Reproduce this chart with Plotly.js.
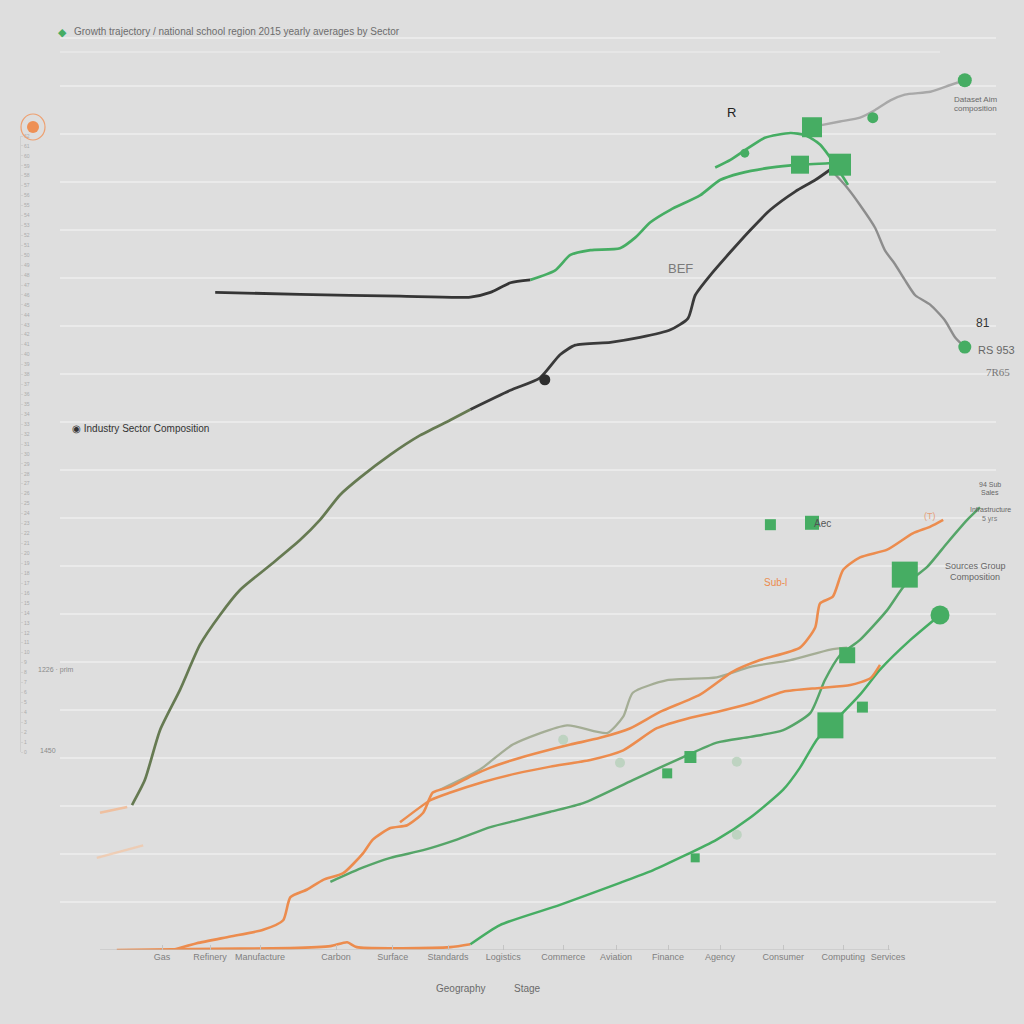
<!DOCTYPE html>
<html>
<head>
<meta charset="utf-8">
<script src="https://cdn.plot.ly/plotly-3.0.1.min.js"></script>
<style>
  html, body { margin: 0; padding: 0; background: #dedede; }
  #myPlot { width: 1024px; height: 1024px; }
</style>
</head>
<body>
<div id="myPlot"></div>
<script>
// sector axis
var sectorTicks = [7.75, 13.75, 20, 29.5, 36.6, 43.5, 50.4, 57.9, 64.5, 71, 77.5, 85.4, 92.9, 98.5]
var sectorNames = ["Gas", "Refinery", "Manufacture", "Carbon", "Surface", "Standards", "Logistics",
                   "Commerce", "Aviation", "Finance", "Agency", "Consumer", "Computing", "Services"]

// upper group
var mainLowX = [4.0, 5.6, 7.5, 10.0, 12.5, 15.0, 17.5, 21.3, 25.0, 27.5, 30.0, 32.5, 36.3, 40.0, 43.8, 46.3]
var mainLowY = [15.1, 17.7, 22.9, 27.1, 31.8, 34.9, 37.5, 40.1, 42.7, 44.8, 47.4, 49.2, 51.6, 53.6, 55.2, 56.3]
var mainHighX = [46.3, 51.3, 55.0, 57.5, 59.4, 63.8, 67.5, 71.3, 73.5, 74.4, 76.3, 78.8, 81.3, 83.8, 86.9, 89.4, 91.3]
var mainHighY = [56.3, 58.3, 59.6, 62.0, 63.0, 63.3, 63.8, 64.6, 65.8, 68.2, 70.3, 72.7, 75.0, 77.1, 79.0, 80.2, 81.3]
var dropX = [91.3, 93.1, 95.0, 96.9, 98.1, 99.4, 100.6, 101.9, 103.8, 105.6, 106.9, 108.1]
var dropY = [81.3, 79.7, 77.6, 75.2, 72.9, 71.4, 69.8, 68.2, 67.2, 65.6, 63.8, 62.8]
var flatX = [14.4, 25.0, 37.5, 46.3, 48.8, 51.3, 53.8]
var flatY = [68.5, 68.3, 68.1, 68.0, 68.5, 69.5, 69.8]
var riseX = [53.8, 56.9, 58.8, 61.3, 65.0, 66.9, 68.8, 71.3, 75.0, 77.5, 80.0, 83.8, 87.5, 92.5]
var riseY = [69.8, 70.8, 72.4, 72.9, 73.1, 74.2, 75.8, 77.1, 78.6, 80.2, 80.9, 81.5, 81.8, 82.0]
var arcX = [76.9, 78.8, 80.6, 83.1, 86.3, 88.1, 90.0, 91.9, 93.5]
var arcY = [81.5, 82.3, 83.3, 84.6, 85.1, 84.9, 83.9, 81.8, 79.7]
var topX = [90.0, 92.5, 95.0, 96.9, 98.8, 100.6, 103.8, 106.3, 108.1]
var topY = [85.9, 86.3, 86.7, 87.5, 88.5, 89.1, 89.4, 90.1, 90.6]

// lower group
var orangeAX = [9.1, 12.1, 16.3, 20.4, 22.9, 23.8, 25.9, 27.9, 30.4, 32.9, 34.1, 36.3, 38.4, 40.4, 41.6, 43.8, 46.6, 48.8,
                51.6, 55.0, 58.8, 62.5, 66.3, 70.0, 75.0, 79.1, 82.5, 87.5, 89.4, 90.0, 91.6, 92.9, 95.0, 98.4, 101.6, 103.8, 105.4]
var orangeAY = [0, 0.7, 1.4, 2.1, 3.1, 5.5, 6.3, 7.3, 8.0, 10.1, 11.5, 12.7, 13.0, 14.3, 16.4, 17.0, 18.2, 19.0,
                19.8, 20.6, 21.4, 22.1, 23.1, 24.8, 26.6, 29.0, 30.2, 31.5, 33.6, 36.1, 36.8, 39.6, 40.9, 41.7, 43.4, 44.1, 44.8]
var orangeBX = [37.5, 41.3, 43.8, 47.9, 52.1, 56.3, 61.3, 65.4, 69.6, 73.8, 77.1, 81.3, 85.4, 90.0, 93.8, 96.3, 97.5]
var orangeBY = [13.3, 15.6, 16.4, 17.5, 18.4, 19.1, 19.8, 20.8, 23.1, 24.2, 24.8, 25.7, 26.9, 27.3, 27.6, 28.3, 29.7]
var orangeCX = [2.1, 11.3, 23.8, 28.8, 30.9, 32.1, 43.8, 46.3]
var orangeCY = [0, 0.1, 0.2, 0.4, 0.8, 0.3, 0.3, 0.6]
var fadeAX = [0, 3.4], fadeAY = [14.3, 14.9]
var fadeBX = [-0.4, 5.4], fadeBY = [9.6, 10.9]
var sageX = [42.5, 47.5, 51.6, 58.4, 63.4, 65.4, 66.6, 70.9, 77.1, 81.3, 86.3, 91.3, 93.4]
var sageY = [16.7, 18.8, 21.4, 23.4, 22.6, 24.3, 26.8, 28.1, 28.4, 29.5, 30.2, 31.3, 31.5]
var green1X = [28.8, 32.9, 36.3, 40.4, 44.6, 48.8, 52.1, 56.3, 60.4, 66.6, 72.9, 77.1, 81.3, 85.4, 88.8, 90.6,
               92.5, 95.0, 98.4, 100.6, 103.4, 105.9, 108.4, 110.0]
var green1Y = [7.1, 8.6, 9.6, 10.4, 11.5, 12.8, 13.5, 14.4, 15.3, 17.7, 20.1, 21.6, 22.2, 22.9, 24.7, 28.1,
               30.7, 32.3, 35.4, 38.0, 39.9, 42.4, 44.8, 46.1]
var green2X = [46.3, 50.0, 57.5, 65.0, 69.1, 77.1, 81.3, 85.4, 87.5, 89.6, 91.3]
var green2Y = [0.6, 2.6, 4.7, 7.0, 8.3, 11.5, 13.8, 16.7, 19.0, 21.9, 23.4]
var green3X = [91.3, 95.0, 97.5, 101.3, 105.0]
var green3Y = [23.4, 26.6, 29.2, 32.3, 34.9]

// point markers
var squareX = [89.0, 87.5, 92.5, 100.6, 93.4, 91.3, 95.3, 70.9, 73.8, 74.4, 83.8, 89.0]
var squareY = [85.7, 81.8, 81.8, 39.1, 30.7, 23.4, 25.3, 18.4, 20.1, 9.6, 44.3, 44.5]
var squareSize = [20, 18, 22, 26, 16, 26, 11, 10, 12, 9, 11, 14]
var dotX = [108.1, 108.1, 105.0, 96.6, 80.6]
var dotY = [90.6, 62.8, 34.9, 86.7, 83.0]
var dotSize = [14, 13, 19, 11, 9]
var paleX = [57.9, 79.6, 79.6, 65.0]
var paleY = [21.9, 19.6, 12.0, 19.5]
var darkDotX = [55.6], darkDotY = [59.4]

var green = "#46ad63"
var orange = "#ec8c4e"

var line = function (x, y, color, width, opacity) {
    return {
        x: x, y: y, mode: "lines", type: "scatter", hoverinfo: "skip", showlegend: false,
        opacity: opacity || 1,
        line: { color: color, width: width || 2.6, shape: "spline", smoothing: 0.6 }
    }
}

var data = [
    line(fadeAX, fadeAY, "#f2b890", 2.5, 0.8),
    line(fadeBX, fadeBY, "#f3c4a2", 2.5, 0.7),
    line(orangeCX, orangeCY, orange, 2.6),
    line(green2X, green2Y, green, 2.5),
    line(green3X, green3Y, green, 2.5),
    line(green1X, green1Y, "#55a568", 2.5),
    line(sageX, sageY, "#a4ad95", 2.3),
    line(orangeBX, orangeBY, orange, 2.5),
    line(orangeAX, orangeAY, orange, 2.6),
    line(mainLowX, mainLowY, "#667a52", 2.7),
    line(mainHighX, mainHighY, "#3a3a3a", 2.8),
    line(dropX, dropY, "#8d8d8d", 2.4),
    line(topX, topY, "#a8a8a8", 2.4),
    line(flatX, flatY, "#353535", 2.8),
    line(riseX, riseY, green, 2.7),
    line(arcX, arcY, green, 2.7),
    {
        x: paleX, y: paleY, mode: "markers", type: "scatter", hoverinfo: "skip", showlegend: false,
        marker: { color: "#b5cfb9", size: 10, opacity: 0.8 }
    },
    {
        x: squareX, y: squareY, mode: "markers", type: "scatter", hoverinfo: "skip", showlegend: false,
        marker: { color: green, symbol: "square", size: squareSize, opacity: 1, line: { width: 0 } }
    },
    {
        x: dotX, y: dotY, mode: "markers", type: "scatter", hoverinfo: "skip", showlegend: false,
        marker: { color: green, size: dotSize, opacity: 1, line: { width: 0 } }
    },
    {
        x: darkDotX, y: darkDotY, mode: "markers", type: "scatter", hoverinfo: "skip", showlegend: false,
        marker: { color: "#2e2e2e", size: 11, opacity: 1 }
    },
    // carries the small left-hand scale
    { x: [], y: [], yaxis: "y2", type: "scatter", showlegend: false }
]

// page pixels -> paper coords (plot area runs px 60..996 wide, 25..950 high; paper starts at px 15)
var txt = function (px, py, text, size, color, anchor, extra) {
    var a = {
        xref: "paper", yref: "paper",
        x: (px - 15) / 981, y: (950 - py) / 925,
        text: text, showarrow: false,
        xanchor: anchor || "left", yanchor: "middle",
        font: { family: "Liberation Sans, Arial, sans-serif", size: size, color: color }
    }
    return Object.assign(a, extra || {})
}
var px2x = function (px) { return (px - 15) / 981 }
var py2y = function (py) { return (950 - py) / 925 }

var layout = {
    width: 1024, height: 1024,
    margin: { l: 15, r: 28, t: 25, b: 74 },
    paper_bgcolor: "#dedede",
    plot_bgcolor: "rgba(0,0,0,0)",
    showlegend: false,
    font: { family: "Liberation Sans, Arial, sans-serif", color: "#777" },
    xaxis: {
        domain: [px2x(60), 1],
        range: [-5, 112],
        showgrid: false, zeroline: false, showline: false,
        tickvals: sectorTicks, ticktext: sectorNames,
        tickangle: 0,
        ticks: "inside", ticklen: 5, tickcolor: "#c4c4c4",
        tickfont: { family: "Liberation Sans Narrow, Liberation Sans, sans-serif", size: 9, color: "#808080" }
    },
    yaxis: {
        range: [0, 96.35],
        dtick: 5, tick0: 0,
        showgrid: true, gridcolor: "#eaeaea", gridwidth: 1.5,
        zeroline: false, showline: false, showticklabels: false
    },
    yaxis2: {
        domain: [py2y(752), py2y(136)],
        range: [0, 62],
        dtick: 1,
        anchor: "free", position: px2x(20), side: "right",
        showgrid: false, zeroline: false,
        showline: true, linecolor: "#cfcfcf", linewidth: 1,
        ticks: "outside", ticklen: 2, tickcolor: "#cfcfcf",
        tickfont: { size: 5, color: "#acacac" }
    },
    shapes: [
        { type: "line", xref: "x", yref: "y", x0: 0, x1: 98.75, y0: 0, y1: 0, line: { color: "#bdbdbd", width: 1.2 } },
        { type: "line", xref: "paper", yref: "paper", x0: px2x(60), x1: px2x(940), y0: py2y(52), y1: py2y(52),
          line: { color: "#e8e8e8", width: 1.5 } },
        { type: "circle", xref: "paper", yref: "paper", x0: px2x(21), x1: px2x(45), y0: py2y(140), y1: py2y(114),
          line: { color: "#eea070", width: 1.2 }, fillcolor: "rgba(0,0,0,0)" },
        { type: "circle", xref: "paper", yref: "paper", x0: px2x(27), x1: px2x(39), y0: py2y(133), y1: py2y(121),
          line: { width: 0 }, fillcolor: "#ee9055" }
    ],
    annotations: [
        txt(62, 32, "\u25c6", 11, green, "center"),
        txt(72, 31, "Growth trajectory / national school region 2015 yearly averages by Sector", 10, "#6d6d6d"),
        txt(731, 112, "R", 13, "#222", "center"),
        txt(680, 268, "BEF", 13, "#7a7a7a", "center"),
        txt(975, 100, "Dataset Aim", 8, "#6a6a6a", "center"),
        txt(975, 109, "composition", 8, "#6a6a6a", "center"),
        txt(983, 323, "81", 12, "#333", "center"),
        txt(996, 350, "RS 953", 11, "#666", "center"),
        txt(998, 372, "7R65", 11, "#777", "center", { font: { family: "Liberation Serif, serif", size: 11, color: "#777" } }),
        txt(70, 428, "\u25c9 Industry Sector Composition", 10, "#333"),
        txt(990, 484, "94 Sub", 7, "#666", "center"),
        txt(990, 493, "Sales", 7, "#666", "center"),
        txt(990, 509, "Infrastructure", 7, "#666", "center"),
        txt(990, 519, "5 yrs", 7, "#777", "center"),
        txt(975, 566, "Sources Group", 9, "#666", "center"),
        txt(975, 577, "Composition", 9, "#666", "center"),
        txt(775, 582, "Sub-l", 10, orange, "center"),
        txt(822, 523, "Aec", 10, "#555", "center"),
        txt(930, 516, "(T)", 9, "#e5a07a", "center"),
        txt(36, 670, "1226 \u00b7 prim", 7, "#8a8a8a", "left"),
        txt(38, 750, "1450", 7, "#8a8a8a", "left"),
        txt(460, 988, "Geography", 10, "#6a6a6a", "center"),
        txt(527, 988, "Stage", 10, "#6a6a6a", "center")
    ]
}

Plotly.newPlot("myPlot", data, layout, { staticPlot: true, displayModeBar: false })
</script>
</body>
</html>
